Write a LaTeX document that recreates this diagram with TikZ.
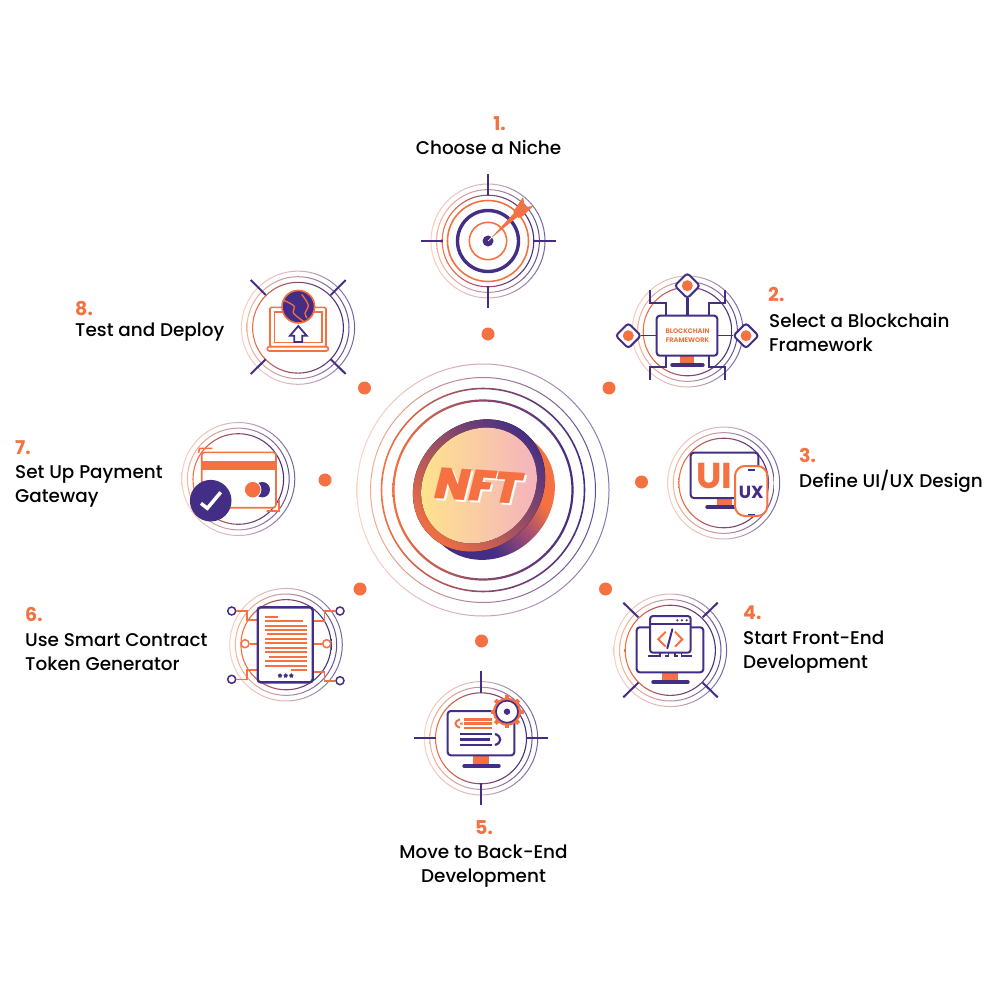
\documentclass[tikz,border=0pt]{standalone}
\usepackage{fontspec}
\setmainfont{Poppins}[UprightFont=* Medium,BoldFont=* Bold]
\newfontfamily\nftfont{Poppins}[UprightFont=* Black Italic]
\newfontfamily\iconfont{Poppins}[UprightFont=* Bold]
\usetikzlibrary{shapes.geometric}
\definecolor{nftorange}{HTML}{F57141}
\definecolor{nftpurple}{HTML}{432D85}
\definecolor{coinleft}{HTML}{FFE68A}
\definecolor{coinright}{HTML}{F4B0C0}
\definecolor{coinmauve}{HTML}{A85070}
\pgfdeclarehorizontalshading{coinback}{100bp}{color(0bp)=(nftpurple); color(38bp)=(nftpurple); color(52bp)=(coinmauve); color(62bp)=(nftorange); color(100bp)=(nftorange)}
\tikzset{
    lbl/.style={anchor=west,align=left,inner sep=0pt,font=\fontsize{18.4}{24}\selectfont},
    lblc/.style={lbl,anchor=center,align=center},
    num/.style={inner sep=0pt,text=nftorange,font=\fontsize{19}{24}\selectfont\bfseries},
    dot/.style={circle,fill=nftorange,inner sep=0pt,minimum size=13pt},
    tick/.style={draw=nftpurple,line width=2pt},
    frame/.style={draw=nftpurple,line width=2pt,fill=white,rounded corners=3pt},
    stand/.style={fill=nftorange},
    foot/.style={draw=nftpurple,line width=3.4pt,line cap=round},
    org/.style={draw=nftorange,line width=1.6pt},
    pin/.style={circle,draw=nftpurple,fill=white,line width=1.5pt,inner sep=0pt,minimum size=8pt},
    orgpin/.style={pin,draw=nftorange}
}
\newcommand{\gradring}[7]{\path[even odd rule,left color=#5,right color=#7,middle color=#6]
    (#1,#2) circle ({#3+#4/2}) (#1,#2) circle ({#3-#4/2});}
\newcommand{\iconrings}[3]{
    \gradring{#1}{#2}{#3}{1}{nftorange!35}{nftpurple!45!nftorange!45}{nftpurple!75}
    \gradring{#1}{#2}{#3-5.6}{1}{nftorange!55}{nftpurple!60!nftorange!60}{nftpurple!85}
    \gradring{#1}{#2}{#3-11.2}{1.1}{nftorange}{nftpurple!60!nftorange}{nftpurple}
}
\begin{document}
\begin{tikzpicture}[x=1pt,y=-1pt]
    \useasboundingbox (0,0) rectangle (1000,1000);

    \gradring{483}{490}{126}{1}{nftorange!30}{nftpurple!50!nftorange!50}{nftpurple!65}
    \gradring{483}{490}{112.5}{1}{nftorange!60}{nftpurple!60!nftorange!70}{nftpurple!85}
    \gradring{483}{490}{101.5}{1.6}{nftorange}{nftpurple!60!nftorange}{nftpurple}
    \gradring{483}{490}{89.5}{2.2}{nftorange}{nftpurple!60!nftorange}{nftpurple}

    \path[shade,shading=coinback,shading angle=40,rotate around={45:(489.5,494.5)}] (489.5,494.5) ellipse (69 and 61.5);
    \fill[left color=nftorange,right color=nftpurple,shading angle=135,rotate around={45:(479,485.5)}] (479,485.5) ellipse (70 and 62);
    \fill[left color=coinleft,right color=coinright,rotate around={45:(479,485.5)}] (479,485.5) ellipse (61.5 and 54);
    \node[text=white,font=\fontsize{44}{44}\selectfont\nftfont,rotate=-4,inner sep=0pt] (nftshadow) at (480.5,487.5) {NFT};
    \node[text=nftorange,font=\fontsize{44}{44}\selectfont\nftfont,rotate=-4,inner sep=0pt] (nft) at (478.5,485.5) {NFT};

    \node[dot] (dot1) at (488,334) {};
    \node[dot] (dot2) at (609,388) {};
    \node[dot] (dot3) at (641.5,482) {};
    \node[dot] (dot4) at (605.5,589) {};
    \node[dot] (dot5) at (481.5,641) {};
    \node[dot] (dot6) at (360,589) {};
    \node[dot] (dot7) at (325,480) {};
    \node[dot] (dot8) at (364.5,388) {};

    \node[num] (num1) at (499.5,123.5) {1.};
    \node[lblc] (lbl1) at (488.5,148) {Choose a Niche};
    \node[num,anchor=west] (num2) at (768,294.5) {2.};
    \node[lbl] (lbl2) at (769,332.5) {Select a Blockchain\\Framework};
    \node[num,anchor=west] (num3) at (799,455.5) {3.};
    \node[lbl] (lbl3) at (799,481) {Define UI/UX Design};
    \node[num,anchor=west] (num4) at (743,612.5) {4.};
    \node[lbl] (lbl4) at (743,652) {Start Front-End\\Development};
    \node[num] (num5) at (484,827.5) {5.};
    \node[lblc] (lbl5) at (483.5,866) {Move to Back-End\\Development};
    \node[num,anchor=west] (num6) at (25,614.5) {6.};
    \node[lbl] (lbl6) at (25,652) {Use Smart Contract\\Token Generator};
    \node[num,anchor=west] (num7) at (15,447.5) {7.};
    \node[lbl] (lbl7) at (15,486) {Set Up Payment\\Gateway};
    \node[num,anchor=west] (num8) at (75,308.5) {8.};
    \node[lbl] (lbl8) at (75,332) {Test and Deploy};

    % 1
    \iconrings{488}{241}{57}
    \draw[org] (488,241) circle (40.5);
    \draw[nftpurple,line width=3.4pt] (488,241) circle (30.5);
    \draw[org] (488,241) circle (18.7);
    \draw[tick] (488,174) -- (488,195) (488,286) -- (488,308) (421,241) -- (443,241) (534,241) -- (556,241);
    \fill[nftpurple] (488,241) circle (5.5);
    \fill[nftorange] (490,239) -- (514,213) -- (513.3,211.7) -- (523,197) -- (525,207) -- (533,206) -- (523,216) -- (518.5,218) -- (517.5,217) -- cycle;
    \draw[white,line width=.7pt] (488,241) -- (492,237);

    % 2
    \iconrings{687.5}{331.5}{55.5}
    \draw[frame,fill=none,sharp corners] (649.7,290) -- (649.7,303.3) -- (666,303.3) -- (666,315.7);
    \draw[frame,fill=none,sharp corners] (725,290) -- (725,303.3) -- (708.7,303.3) -- (708.7,315.7);
    \draw[frame,fill=none,sharp corners] (666,355.7) -- (666,366.7) -- (649.7,366.7) -- (649.7,380);
    \draw[frame,fill=none,sharp corners] (708.7,355.7) -- (708.7,366.7) -- (725,366.7) -- (725,380);
    \draw[tick,line width=2.8pt] (687.3,298) -- (687.3,316);
    \draw[tick,line width=1.4pt] (641,335.7) -- (657,335.7) (717,335.7) -- (733,335.7);
    \fill[stand] (680.3,355) rectangle (694.3,363.3);
    \draw[foot] (672,365) -- (703,365);
    \draw[frame] (656.7,315.7) rectangle (717.3,355.7);
    \node[text=nftorange,align=center,inner sep=0pt,font=\fontsize{6.6}{9.5}\selectfont\iconfont] (chainname) at (687.5,335.5) {BLOCKCHAIN\\FRAMEWORK};
    \node[diamond,frame,minimum size=26pt,inner sep=0pt,rounded corners=3pt] (diatop) at (687.3,285.7) {};
    \node[diamond,frame,minimum size=26pt,inner sep=0pt,rounded corners=3pt] (dialeft) at (628.3,335.7) {};
    \node[diamond,frame,minimum size=26pt,inner sep=0pt,rounded corners=3pt] (diaright) at (746,335.7) {};
    \fill[nftorange] (diatop) circle (5.5) (dialeft) circle (5.5) (diaright) circle (5.5);

    % 3
    \iconrings{723.7}{483}{56}
    \fill[stand] (716.7,497) rectangle (732.3,505.3);
    \draw[foot] (707,507) -- (735,507);
    \draw[frame] (690.7,452.7) rectangle (758.3,498);
    \node[text=nftorange,inner sep=0pt,font=\fontsize{36}{36}\selectfont\iconfont] (ui) at (714,476) {UI};
    \draw[org,line width=2pt,fill=white,rounded corners=10pt] (735,466) rectangle (767.3,516);
    \draw[nftpurple,line width=1.2pt] (748,470) -- (755,470) (748,514.7) -- (755,514.7);
    \node[text=nftpurple,inner sep=0pt,font=\fontsize{17.5}{18}\selectfont\iconfont] (ux) at (751.3,492) {UX};

    % 4
    \iconrings{670.3}{650.3}{56.3}
    \draw[tick] (623.3,602.7) -- (638.3,617.3) (717.7,602.7) -- (702.7,617.3) (623.3,697.3) -- (638.3,682.7) (717.7,697.3) -- (702.7,682.7);
    \fill[stand] (662.3,672) rectangle (677.7,680);
    \draw[foot] (653,682) -- (688,682);
    \draw[frame] (636.7,627.3) rectangle (703.3,672.3);
    \draw[frame] (650,616) rectangle (690.7,652.7);
    \draw[tick] (650,624.3) -- (690.7,624.3);
    \fill[nftpurple] (677.3,620.3) circle (1.2) (681.9,620.3) circle (1.2) (686.7,620.3) circle (1.2);
    \draw[nftorange,line width=2pt] (665.7,631.7) -- (658.3,639.3) -- (665.7,646.7) (675,631.7) -- (682.3,639.3) -- (675,646.7);
    \draw[tick,line cap=round] (672.3,629.3) -- (667.3,648.3);
    \draw[tick,line width=1.5pt] (648,656) -- (660,656) -- (660,652.7) (665,656) -- (668.5,656) -- (668.5,652.7) (675,652.7) -- (675,656) -- (678,656) (681.7,652.7) -- (681.7,656) -- (692,656);

    % 5
    \iconrings{481}{738.3}{56.7}
    \draw[tick] (481,671) -- (481,692.7) (481,783.3) -- (481,805) (414,738) -- (435.7,738) (526.7,738) -- (548.3,738);
    \fill[stand] (473.3,755) rectangle (489,764);
    \draw[foot] (464,766) -- (499,766);
    \draw[frame] (447.7,711) rectangle (514.3,755.3);
    \foreach \a in {0,45,...,315}
        \draw[nftorange,line width=4pt] ({507+11*cos(\a)},{711.7+11*sin(\a)}) -- ({507+16.5*cos(\a)},{711.7+16.5*sin(\a)});
    \fill[nftorange] (507,711.7) circle (14);
    \draw[nftpurple,line width=1.6pt,fill=white] (507,711.7) circle (11);
    \fill[nftpurple] (507,711.7) circle (3.2);
    \draw[nftorange,line width=2.4pt] (464.3,719.3) -- (492.3,719.3) (464.3,723.5) -- (492.3,723.5) (464.3,727.7) -- (492.3,727.7);
    \draw[nftorange,line width=2pt] (460,719.3) .. controls (454,721) and (454,726) .. (460,727.7) (460,723.5) -- (462.5,723.5);
    \draw[nftpurple,line width=2.6pt] (460,734) -- (492.3,734) (460,739.3) -- (490,739.3) (460,745) -- (492.3,745);
    \draw[nftpurple,line width=2.2pt] (495,734) .. controls (502,736) and (502,743) .. (495,745);

    % 6
    \iconrings{286}{644.7}{56.3}
    \node[pin] (pintl) at (231.7,611) {};
    \node[pin] (pintr) at (340,611) {};
    \node[pin] (pinbl) at (231.7,679.3) {};
    \node[pin] (pinbr) at (340,680.7) {};
    \node[orgpin] (pinml) at (245,643.7) {};
    \node[orgpin] (pinmr) at (326.7,643.7) {};
    \draw[org] (pintl) -- (246.7,611) -- (246.7,620) -- (258,620);
    \draw[org] (pintr) -- (324.3,611) -- (324.3,621) -- (312,621);
    \draw[org] (pinbl) -- (246.7,679.3) -- (246.7,670) -- (258,670);
    \draw[org] (pinbr) -- (324.3,680.7) -- (324.3,671.7) -- (312,671.7);
    \draw[org] (pinml) -- (258,643.7) (pinmr) -- (312,643.7);
    \draw[frame,line width=2.4pt] (257.7,607.3) rectangle (312.7,682.3);
    \foreach \xa/\xb/\yy in {136/175/80,136/248/93,136/260/107,136/260/120,142/260/133,136/260/147,136/260/160,136/260/173,136/260/187,148/260/200,136/260/213,136/260/227,213/260/241}
        \draw[nftorange,line width=1.8pt] ({220+\xa/3},{590+\yy/3}) -- ({220+\xb/3},{590+\yy/3});
    \foreach \xx/\sname in {280/stara,285.7/starb,291.3/starc}
        \node[star,star points=5,fill=nftpurple,inner sep=0pt,minimum size=5pt] (\sname) at (\xx,675.7) {};

    % 7
    \iconrings{238.3}{479}{56.5}
    \draw[org,fill=white,rounded corners=3pt] (201.7,452.3) rectangle (276,507.7);
    \fill[nftorange] (201.7,461) rectangle (276,470);
    \draw[org] (198.5,453) -- (199.5,448.3) -- (212.3,448.3) (266.7,511) -- (279,511) -- (279,500);
    \fill[nftpurple] (262.3,489.7) circle (7.7);
    \draw[white,line width=.8pt,fill=nftorange] (252.7,489.7) circle (8.3);
    \fill[nftpurple] (210.7,500.7) circle (20.8);
    \draw[white,line width=3.5pt] (201,503.3) -- (207.3,508.3) -- (220.7,492.3);

    % 8
    \iconrings{298}{327.7}{56.6}
    \draw[tick] (250.7,280) -- (265.7,295) (345.7,280) -- (330.7,295) (250.7,374) -- (265.7,359.3) (345.7,374) -- (330.7,359.3);
    \draw[org,fill=white,rounded corners=1.5pt] (270,307.3) rectangle (326,346.7);
    \draw[org,fill=white] (274.3,311.7) rectangle (321.7,342.3);
    \draw[org,fill=white,rounded corners=2pt] (267.3,346.7) rectangle (328.3,351);
    \draw[nftpurple,line width=1.8pt,fill=white,line join=miter] (294.3,342) -- (294.3,335.7) -- (290,335.7) -- (298.3,326) -- (306.7,335.7) -- (302.3,335.7) -- (302.3,342) -- cycle;
    \draw[org,fill=nftpurple] (298.3,306.7) circle (16.3);
    \draw[nftorange,line width=1.3pt] plot[smooth] coordinates {(283.3,300) (294,306) (293.5,313.3) (304,321.7)};
    \draw[nftorange,line width=1.3pt] plot[smooth] coordinates {(301.7,294.3) (308.3,305) (305,313.3) (307,318)};
\end{tikzpicture}
\end{document}
